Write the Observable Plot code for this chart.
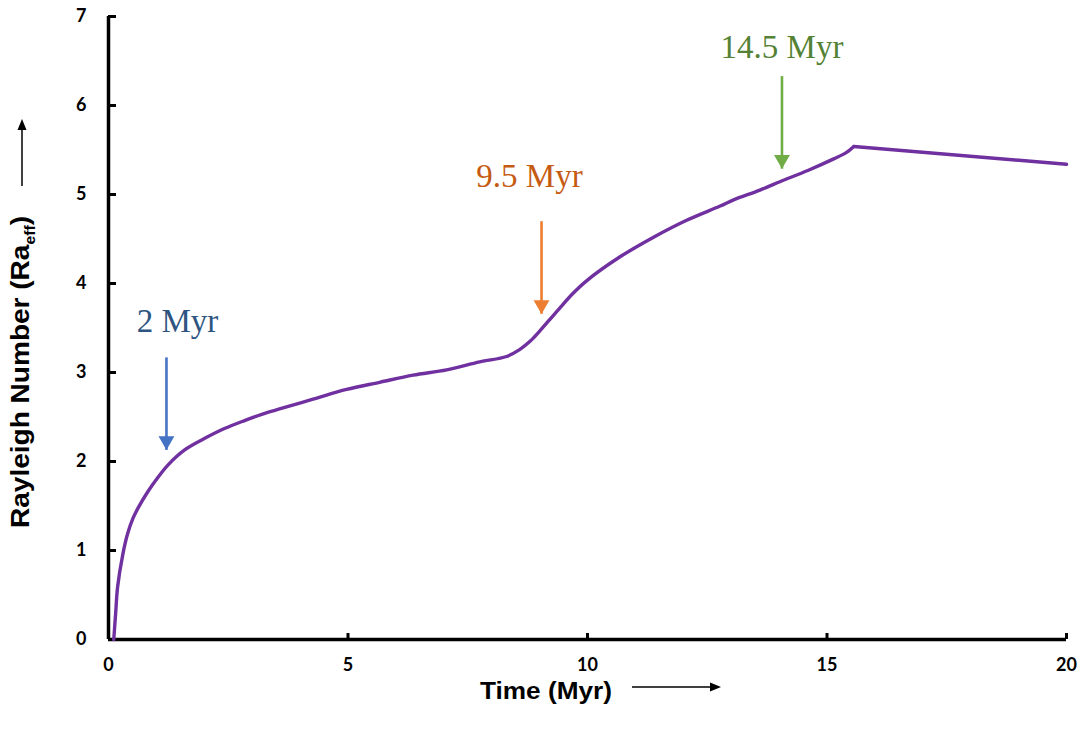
<!DOCTYPE html>
<html>
<head>
<meta charset="utf-8">
<script src="https://cdn.jsdelivr.net/npm/d3@7"></script>
<script src="https://cdn.jsdelivr.net/npm/@observablehq/plot@0.6"></script>
<style>
  html, body { margin: 0; padding: 0; background: #ffffff; }
  #chart svg { display: block; }
</style>
</head>
<body>
<div id="chart"></div>
<script>
// ---- Data ----
const timeMyr = [0.11, 0.15, 0.19, 0.30, 0.40, 0.51, 0.61, 0.82, 1.03, 1.24, 1.59, 2.01, 2.42, 2.84, 3.20, 3.57,
  4.27, 4.97, 5.66, 6.36, 7.06, 7.75, 8.31, 8.59, 8.80, 9.01, 9.22, 9.43, 9.70, 9.98, 10.68, 11.38, 12.07,
  12.77, 13.05, 13.60, 14.09, 14.60, 15.14, 15.40, 15.56, 20.00];
const rayleighEff = [0.00, 0.30, 0.59, 0.96, 1.19, 1.36, 1.47, 1.66, 1.82, 1.96, 2.13, 2.26, 2.37, 2.46, 2.53, 2.59,
  2.70, 2.81, 2.89, 2.97, 3.03, 3.12, 3.18, 3.26, 3.35, 3.47, 3.60, 3.73, 3.89, 4.03, 4.30, 4.52, 4.71,
  4.87, 4.94, 5.05, 5.16, 5.27, 5.40, 5.47, 5.54, 5.34];
const peakIndex = 40; // the curve turns down after this point

const xTicks = [0, 5, 10, 15, 20];
const yTicks = [0, 1, 2, 3, 4, 5, 6, 7];

const annotationLabels = ["2 Myr", "9.5 Myr", "14.5 Myr"];
const annotationX = [1.44, 8.79, 14.06];
const annotationY = [3.45, 5.08, 6.53];
const annotationColors = ["#2E5580", "#C55A11", "#548235"];

const arrowX = [1.21, 9.04, 14.06];
const arrowTop = [3.17, 4.70, 6.33];
const arrowTip = [2.13, 3.66, 5.29];
const arrowColors = ["#4472C4", "#ED7D31", "#70AD47"];

// ---- Tables built from the arrays ----
const curve = timeMyr.map((t, i) => ({t, ra: rayleighEff[i]}));
const rising = curve.slice(0, peakIndex + 1);
const falling = curve.slice(peakIndex);
const notes = annotationLabels.map((label, i) => ({label, x: annotationX[i], y: annotationY[i], color: annotationColors[i]}));
const arrows = arrowX.map((x, i) => ({x, top: arrowTop[i], tip: arrowTip[i], color: arrowColors[i]}));

const plot = Plot.plot({
  width: 1083,
  height: 729,
  marginLeft: 108,
  marginRight: 17,
  marginTop: 16,
  marginBottom: 90,
  x: {domain: [0, 20]},
  y: {domain: [0, 7]},
  style: {background: "#ffffff", color: "#000000"},
  marks: [
    Plot.axisX({ticks: xTicks, tickSize: -6, tickPadding: 25, tickFormat: d => String(d), label: null,
      stroke: "#000", strokeWidth: 3, fill: "#000", fontSize: 18, fontWeight: "bold", fontFamily: "Lato"}),
    Plot.axisY({ticks: yTicks, tickSize: -8, tickPadding: 30, tickFormat: d => String(d), label: null,
      stroke: "#000", strokeWidth: 3, fill: "#000", fontSize: 18, fontWeight: "bold", fontFamily: "Lato"}),
    Plot.ruleX([0], {stroke: "#000", strokeWidth: 3.5}),
    Plot.ruleY([0], {stroke: "#000", strokeWidth: 3.5}),
    Plot.line(rising, {x: "t", y: "ra", stroke: "#7030A0", strokeWidth: 3.4, curve: "catmull-rom", strokeLinejoin: "round"}),
    Plot.line(falling, {x: "t", y: "ra", stroke: "#7030A0", strokeWidth: 3.4, strokeLinejoin: "round"}),
    Plot.link(arrows, {x1: "x", x2: "x", y1: "top", y2: "tip", stroke: d => d.color, strokeWidth: 2.6}),
    Plot.dot(arrows, {x: "x", y: "tip", symbol: "triangle", rotate: 180, r: 5.9, dy: -9,
      fill: d => d.color, stroke: "none"}),
    Plot.text(notes, {x: "x", y: "y", text: "label", fill: d => d.color, fontSize: 33,
      fontFamily: "Liberation Serif", textAnchor: "middle", lineAnchor: "bottom"})
  ]
});

document.getElementById("chart").appendChild(plot);

// ---- Axis titles with their arrows ----
const svg = d3.select(plot);
const ylab = svg.append("text")
  .attr("transform", "translate(29,372) rotate(-90)")
  .attr("text-anchor", "middle")
  .attr("font-family", "Liberation Sans, Arial, sans-serif")
  .attr("font-weight", "bold")
  .attr("font-size", 25)
  .attr("textLength", 312)
  .attr("lengthAdjust", "spacingAndGlyphs")
  .attr("fill", "#000");
ylab.append("tspan").text("Rayleigh Number (Ra");
ylab.append("tspan").attr("font-size", 14).attr("dy", 6).text("eff");
ylab.append("tspan").attr("dy", -6).text(")");

svg.append("line").attr("x1", 22).attr("x2", 22).attr("y1", 186).attr("y2", 128)
  .attr("stroke", "#000").attr("stroke-width", 1.5);
svg.append("path").attr("d", "M22,119 L17.5,130 L26.5,130 Z").attr("fill", "#000");

svg.append("text")
  .attr("x", 546).attr("y", 699)
  .attr("text-anchor", "middle")
  .attr("font-family", "Liberation Sans, Arial, sans-serif")
  .attr("font-weight", "bold")
  .attr("font-size", 23)
  .attr("textLength", 132)
  .attr("lengthAdjust", "spacingAndGlyphs")
  .attr("fill", "#000")
  .text("Time (Myr)");
svg.append("line").attr("x1", 632).attr("x2", 712).attr("y1", 687).attr("y2", 687)
  .attr("stroke", "#000").attr("stroke-width", 1.5);
svg.append("path").attr("d", "M721,687 L710,682.5 L710,691.5 Z").attr("fill", "#000");
</script>
</body>
</html>
